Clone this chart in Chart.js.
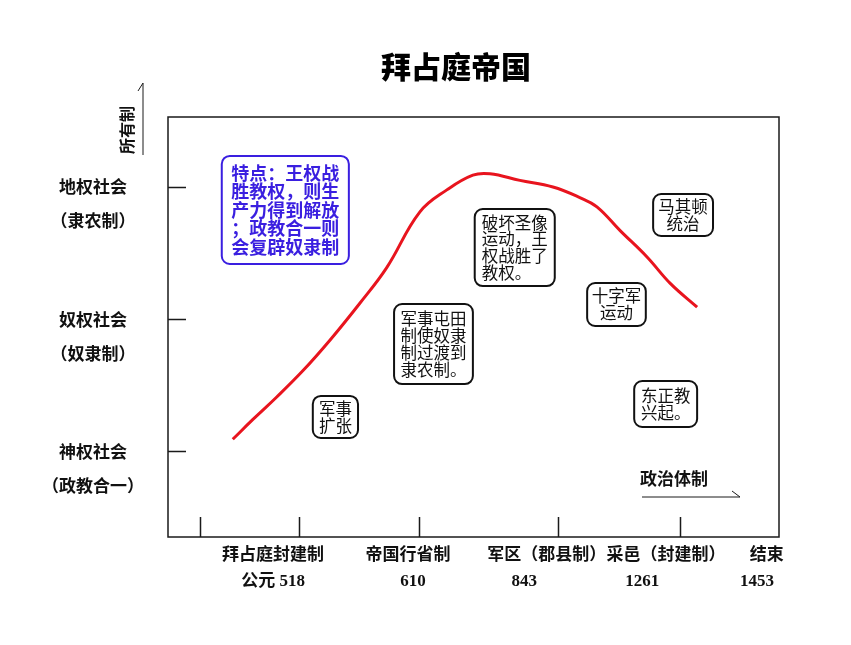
<!DOCTYPE html>
<html>
<head>
<meta charset="utf-8">
<script src="https://cdn.jsdelivr.net/npm/chart.js@4"></script>
<style>
  html, body { margin: 0; padding: 0; background: #fff; }
</style>
</head>
<body>
<canvas id="chart" width="851" height="645"></canvas>
<script>
// curve: ownership level over the course of the empire (x in timeline units 0..100)
const curveX = [10.6, 13.9, 17.8, 22.1, 26.5, 31.4, 35.8, 41.2, 45.7, 49.9, 52.7, 57.6, 63.0, 67.4, 70.2, 74.0, 78.4, 82.2, 86.6];
const curveY = [1.09, 1.24, 1.41, 1.61, 1.84, 2.12, 2.39, 2.81, 2.98, 3.09, 3.10, 3.05, 3.00, 2.92, 2.85, 2.67, 2.47, 2.27, 2.09];

// x axis: political system periods and years
const periodNames = ['拜占庭封建制', '帝国行省制', '军区（郡县制）', '采邑（封建制）', '结束'];
const periodNamePos = [17.2, 39.3, 62.0, 81.5, 98.0];
const years = ['公元 518', '610', '843', '1261', '1453'];
const yearPos = [17.2, 40.1, 58.3, 77.6, 96.4];
const periodBreaks = [5.2, 21.4, 41.1, 63.8, 83.8];

// y axis: type of society
const societyLevels = [1, 2, 3];
const societies = [['神权社会', '（政教合一）'], ['奴权社会', '（奴隶制）'], ['地权社会', '（隶农制）']];

// text notes placed in data units
const notes = [
  { lines: ['特点：王权战', '胜教权，则生', '产力得到解放', '；政教合一则', '会复辟奴隶制'], x1: 8.8, x2: 29.6, y1: 3.235, y2: 2.417, blue: true },
  { lines: ['军事', '扩张'], x1: 23.7, x2: 31.1, y1: 1.418, y2: 1.10 },
  { lines: ['军事屯田', '制使奴隶', '制过渡到', '隶农制。'], x1: 37.0, x2: 49.9, y1: 2.114, y2: 1.508 },
  { lines: ['破坏圣像', '运动，王', '权战胜了', '教权。'], x1: 50.2, x2: 63.3, y1: 2.833, y2: 2.250 },
  { lines: ['十字军', '运动'], x1: 68.6, x2: 78.2, y1: 2.273, y2: 1.948, center: true },
  { lines: ['马其顿', '统治'], x1: 79.4, x2: 89.2, y1: 2.947, y2: 2.629, center: true },
  { lines: ['东正教', '兴起。'], x1: 76.3, x2: 86.6, y1: 1.531, y2: 1.183 }
];

const CJK = '"Noto Sans CJK SC", sans-serif';

function roundRect(ctx, x, y, w, h, r) {
  ctx.beginPath();
  ctx.moveTo(x + r, y);
  ctx.arcTo(x + w, y, x + w, y + h, r);
  ctx.arcTo(x + w, y + h, x, y + h, r);
  ctx.arcTo(x, y + h, x, y, r);
  ctx.arcTo(x, y, x + w, y, r);
  ctx.closePath();
}

const decor = {
  id: 'decor',
  afterLayout(chart) {
    // title sits centred over the frame area rather than the whole canvas
    if (chart.titleBlock) chart.titleBlock.left = chart.chartArea.left - 35;
  },
  beforeDatasetsDraw(chart) {
    const { ctx, chartArea: a, scales: { x, y } } = chart;
    ctx.save();
    ctx.strokeStyle = '#1a1a1a';
    ctx.lineWidth = 1.5;
    ctx.strokeRect(a.left, a.top, a.right - a.left, a.bottom - a.top);
    ctx.beginPath();
    periodBreaks.forEach(v => {
      const px = Math.round(x.getPixelForValue(v)) + 0.5;
      ctx.moveTo(px, a.bottom);
      ctx.lineTo(px, a.bottom - 20);
    });
    y.ticks.forEach(t => {
      const py = Math.round(y.getPixelForValue(t.value)) + 0.5;
      ctx.moveTo(a.left, py);
      ctx.lineTo(a.left + 18, py);
    });
    ctx.stroke();

    // axis arrows
    ctx.lineWidth = 1;
    ctx.beginPath();
    ctx.moveTo(a.left - 25, a.top + 38);
    ctx.lineTo(a.left - 25, a.top - 34);
    ctx.lineTo(a.left - 30, a.top - 26);
    ctx.moveTo(a.right - 137, a.bottom - 40);
    ctx.lineTo(a.right - 39, a.bottom - 40);
    ctx.lineTo(a.right - 47, a.bottom - 46);
    ctx.stroke();

    ctx.fillStyle = '#111';
    ctx.font = 'bold 17px ' + CJK;
    ctx.textBaseline = 'middle';
    ctx.textAlign = 'left';
    ctx.fillText('政治体制', a.right - 139, a.bottom - 58);
    ctx.font = 'bold 16px ' + CJK;
    ctx.translate(a.left - 41, a.top + 13);
    ctx.rotate(-Math.PI / 2);
    ctx.textAlign = 'center';
    ctx.fillText('所有制', 0, 0);
    ctx.restore();
  },
  afterDatasetsDraw(chart) {
    const { ctx, scales: { x, y } } = chart;
    ctx.save();
    notes.forEach(n => {
      const left = x.getPixelForValue(n.x1), right = x.getPixelForValue(n.x2);
      const top = y.getPixelForValue(n.y1), bottom = y.getPixelForValue(n.y2);
      const color = n.blue ? '#3a1fe0' : '#111';
      const size = n.blue ? 18 : 16.5;
      const lh = n.blue ? 18.5 : 16.8;
      roundRect(ctx, left, top, right - left, bottom - top, 8);
      ctx.fillStyle = '#fff';
      ctx.fill();
      ctx.lineWidth = 2;
      ctx.strokeStyle = color;
      ctx.stroke();
      ctx.fillStyle = color;
      ctx.font = (n.blue ? 'bold ' : '') + size + 'px ' + CJK;
      ctx.textBaseline = 'middle';
      const widest = Math.max(...n.lines.map(l => ctx.measureText(l).width));
      const cx = (left + right) / 2, cy = (top + bottom) / 2;
      n.lines.forEach((l, i) => {
        const ly = cy + (i - (n.lines.length - 1) / 2) * lh;
        if (n.center) {
          ctx.textAlign = 'center';
          ctx.fillText(l, cx, ly);
        } else {
          ctx.textAlign = 'left';
          ctx.fillText(l, cx - widest / 2, ly);
        }
      });
    });
    ctx.restore();
  }
};

new Chart(document.getElementById('chart'), {
  type: 'line',
  data: {
    datasets: [{
      data: curveX.map((v, i) => ({ x: v, y: curveY[i] })),
      borderColor: '#e8141e',
      borderWidth: 3,
      pointRadius: 0,
      tension: 0.4,
      fill: false
    }]
  },
  options: {
    responsive: false,
    animation: false,
    layout: { padding: { left: 30, right: 72, top: 49, bottom: 48 } },
    plugins: {
      legend: { display: false },
      tooltip: { enabled: false },
      title: {
        display: true,
        text: '拜占庭帝国',
        color: '#000',
        font: { family: CJK, size: 30, weight: '900', lineHeight: 1.2 },
        padding: { top: 0, bottom: 32 }
      }
    },
    scales: {
      x: {
        type: 'linear',
        min: 0, max: 100,
        grid: { display: false, drawTicks: false },
        border: { display: false },
        afterBuildTicks: s => { s.ticks = periodNamePos.map(v => ({ value: v })); },
        afterFit: s => { s.height = 30; },
        ticks: {
          autoSkip: false, maxRotation: 0, minRotation: 0, padding: 6,
          color: '#111',
          font: { family: CJK, size: 17, weight: 'bold', lineHeight: 1.2 },
          callback: (v, i) => periodNames[i]
        }
      },
      xYears: {
        type: 'linear',
        axis: 'x',
        position: 'bottom',
        weight: 1,
        min: 0, max: 100,
        grid: { display: false, drawTicks: false },
        border: { display: false },
        afterBuildTicks: s => { s.ticks = yearPos.map(v => ({ value: v })); },
        afterFit: s => { s.height = 30; },
        ticks: {
          autoSkip: false, maxRotation: 0, minRotation: 0, padding: 4,
          color: '#111',
          font: { family: '"Liberation Serif", ' + CJK, size: 17, weight: 'bold', lineHeight: 1.2 },
          callback: (v, i) => years[i]
        }
      },
      y: {
        type: 'linear',
        min: 0.35, max: 3.53,
        grid: { display: false, drawTicks: false },
        border: { display: false },
        afterBuildTicks: s => { s.ticks = societyLevels.map(v => ({ value: v })); },
        afterFit: s => { s.width = 138; },
        ticks: {
          autoSkip: false, crossAlign: 'center', padding: 24, labelOffset: 17,
          color: '#111',
          font: { family: CJK, size: 17, weight: 'bold', lineHeight: 2 },
          callback: (v, i) => societies[i]
        }
      }
    }
  },
  plugins: [decor]
});
</script>
</body>
</html>
